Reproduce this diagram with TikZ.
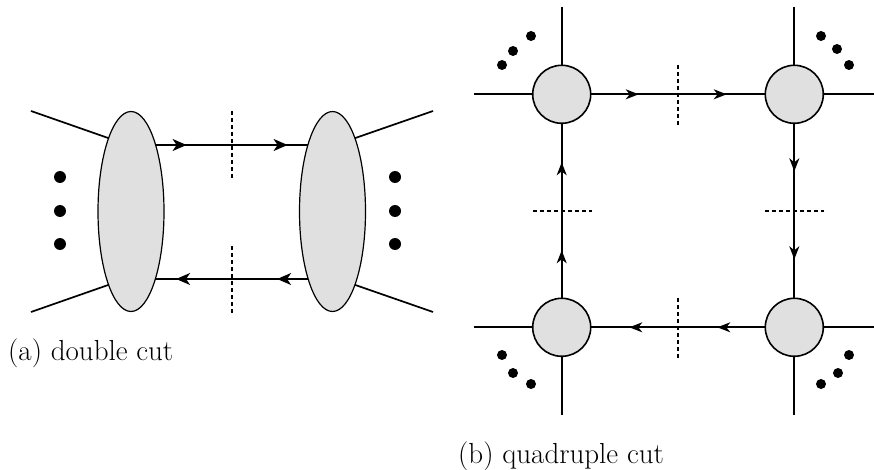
\documentclass[tikz,border=0pt]{standalone}
\usepackage{fontspec}
\usetikzlibrary{shapes.geometric,arrows.meta,decorations.markings,calc}
\definecolor{blobgray}{HTML}{E0E0E0}
\tikzset{
  blob/.style={ellipse,draw=black,line width=1.2pt,fill=blobgray,minimum width=66pt,minimum height=200pt,inner sep=0pt,outer sep=0pt},
  vert/.style={circle,draw=black,line width=1.6pt,fill=blobgray,minimum size=58pt,inner sep=0pt,outer sep=0pt},
  leg/.style={line width=1.7pt},
  cutline/.style={line width=1.5pt,dash pattern=on 4pt off 3pt},
  dotmark/.style={circle,fill=black,inner sep=0pt,minimum size=#1},
  twoarrA/.style={leg,postaction={decorate},decoration={markings,
     mark=at position 31pt with {\arrow{Stealth[length=14pt,width=12pt,inset=4pt]}},
     mark=at position 132pt with {\arrow{Stealth[length=14pt,width=12pt,inset=4pt]}}}},
  twoarrB/.style={leg,postaction={decorate},decoration={markings,
     mark=at position 48pt with {\arrow{Stealth[length=13pt,width=10pt,inset=4pt]}},
     mark=at position 136pt with {\arrow{Stealth[length=13pt,width=10pt,inset=4pt]}}}},
  lab/.style={anchor=base west,inner sep=0pt,font=\fontsize{29}{33}\selectfont}
}
\begin{document}
\begin{tikzpicture}[x=1pt,y=-1pt]
\useasboundingbox (0,0) rectangle (874,470);
% ---------- (a) double cut ----------
\node[blob] (L) at (131,211.5) {};
\node[blob] (R) at (332.5,211.5) {};
\coordinate (Lne) at ($(L.center)+(24.6,-66.5)$);
\coordinate (Lse) at ($(L.center)+(24.4,67.5)$);
\coordinate (Rnw) at ($(R.center)+(-24.6,-66.5)$);
\coordinate (Rsw) at ($(R.center)+(-24.4,67.5)$);
\coordinate (aul) at (31,111);
\coordinate (all) at (31,312);
\coordinate (aur) at (433,111);
\coordinate (alr) at (433,312);
\draw[leg] (aul) -- (L.107);
\draw[leg] (all) -- (L.253);
\draw[leg] (aur) -- (R.73);
\draw[leg] (alr) -- (R.287);
\draw[twoarrA] (Lne) -- (Rnw);
\draw[twoarrA] (Rsw) -- (Lse);
\coordinate (ca1) at (232,111); \coordinate (ca2) at (232,178);
\coordinate (ca3) at (232,246); \coordinate (ca4) at (232,313);
\draw[cutline] (ca1) -- (ca2);
\draw[cutline] (ca3) -- (ca4);
\node[dotmark=12pt] (d1) at (60,177) {};
\node[dotmark=12pt] (d2) at (60,211) {};
\node[dotmark=12pt] (d3) at (60,244) {};
\node[dotmark=12pt] (d4) at (395,177) {};
\node[dotmark=12pt] (d5) at (395,211) {};
\node[dotmark=12pt] (d6) at (395,244) {};
\node[lab] (la) at (8,360) {(a) double cut};
% ---------- (b) quadruple cut ----------
\node[vert] (tl) at (561.7,94.3) {};
\node[vert] (tr) at (794.3,94.3) {};
\node[vert] (bl) at (561.7,327.3) {};
\node[vert] (br) at (794.3,327.3) {};
\coordinate (tlw) at (474,94.3);  \coordinate (tln) at (561.7,7);
\coordinate (tre) at (874,94.3);  \coordinate (trn) at (794.3,7);
\coordinate (blw) at (474,327.3); \coordinate (bls) at (561.7,415);
\coordinate (bre) at (874,327.3); \coordinate (brs) at (794.3,415);
\draw[leg] (tlw) -- (tl); \draw[leg] (tln) -- (tl);
\draw[leg] (tre) -- (tr); \draw[leg] (trn) -- (tr);
\draw[leg] (blw) -- (bl); \draw[leg] (bls) -- (bl);
\draw[leg] (bre) -- (br); \draw[leg] (brs) -- (br);
\draw[twoarrB] (tl) -- (tr);
\draw[twoarrB] (tr) -- (br);
\draw[twoarrB] (br) -- (bl);
\draw[twoarrB] (bl) -- (tl);
\coordinate (cb1) at (678,65);  \coordinate (cb2) at (678,125);
\coordinate (cb3) at (678,298); \coordinate (cb4) at (678,358);
\coordinate (cb5) at (533,211); \coordinate (cb6) at (592,211);
\coordinate (cb7) at (765,211); \coordinate (cb8) at (824,211);
\draw[cutline] (cb1) -- (cb2);
\draw[cutline] (cb3) -- (cb4);
\draw[cutline] (cb5) -- (cb6);
\draw[cutline] (cb7) -- (cb8);
\node[dotmark=10pt] (e1) at (502,65) {};
\node[dotmark=10pt] (e2) at (513,51) {};
\node[dotmark=10pt] (e3) at (531,36) {};
\node[dotmark=10pt] (e4) at (821,36) {};
\node[dotmark=10pt] (e5) at (837,49) {};
\node[dotmark=10pt] (e6) at (849,65) {};
\node[dotmark=10pt] (e7) at (502,355) {};
\node[dotmark=10pt] (e8) at (513,373) {};
\node[dotmark=10pt] (e9) at (531,384) {};
\node[dotmark=10pt] (e10) at (849,355) {};
\node[dotmark=10pt] (e11) at (838,373) {};
\node[dotmark=10pt] (e12) at (821,384) {};
\node[lab] (lb) at (458,463) {(b) quadruple cut};
\end{tikzpicture}
\end{document}
